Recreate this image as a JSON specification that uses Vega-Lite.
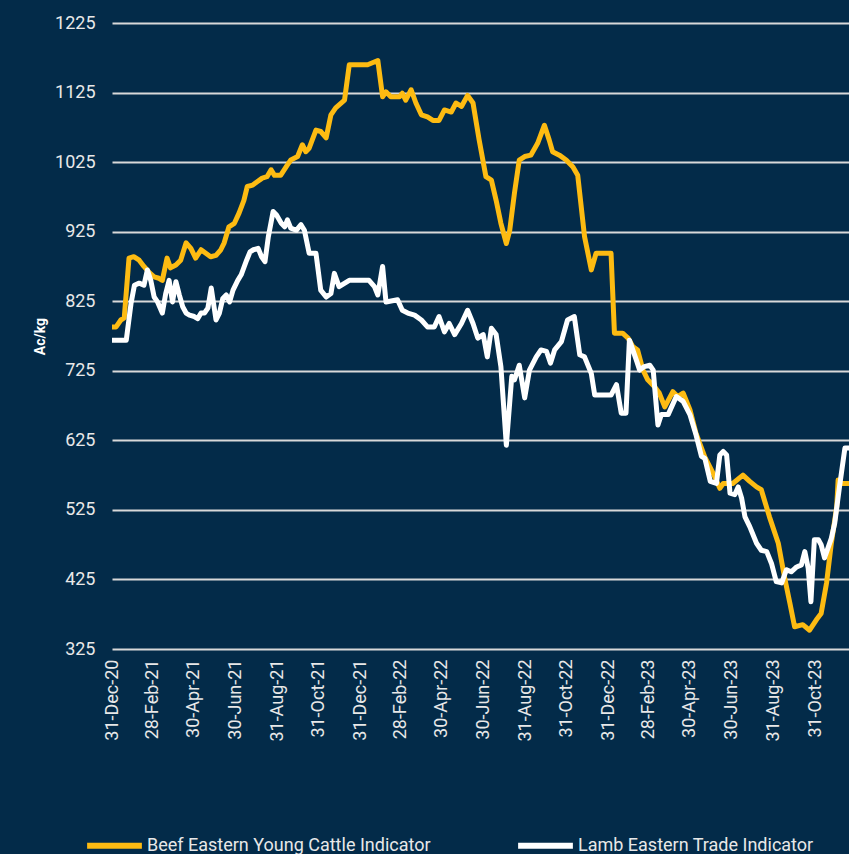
{
  "$schema": "https://vega.github.io/schema/vega-lite/v6.json",
  "width": 737,
  "height": 626,
  "autosize": {"type": "none"},
  "padding": {"left": 112, "top": 23, "right": 0, "bottom": 205},
  "background": "#032b49",
  "config": {
    "view": {"stroke": null},
    "font": "Roboto"
  },
  "datasets": {
    "beef": [
      {"d":"2020-12-31","v":788},{"d":"2021-01-06","v":788},{"d":"2021-01-13","v":798},{"d":"2021-01-18","v":801},{"d":"2021-01-25","v":887},{"d":"2021-02-01","v":889},{"d":"2021-02-09","v":884},{"d":"2021-02-16","v":875},{"d":"2021-02-24","v":866},{"d":"2021-03-03","v":860},{"d":"2021-03-10","v":858},{"d":"2021-03-15","v":855},{"d":"2021-03-22","v":887},{"d":"2021-03-27","v":873},{"d":"2021-04-04","v":877},{"d":"2021-04-11","v":884},{"d":"2021-04-19","v":909},{"d":"2021-04-26","v":901},{"d":"2021-05-03","v":887},{"d":"2021-05-11","v":899},{"d":"2021-05-18","v":894},{"d":"2021-05-25","v":889},{"d":"2021-06-02","v":891},{"d":"2021-06-09","v":899},{"d":"2021-06-14","v":909},{"d":"2021-06-21","v":932},{"d":"2021-06-29","v":937},{"d":"2021-07-06","v":952},{"d":"2021-07-13","v":970},{"d":"2021-07-18","v":990},{"d":"2021-07-26","v":992},{"d":"2021-08-02","v":997},{"d":"2021-08-09","v":1002},{"d":"2021-08-16","v":1004},{"d":"2021-08-22","v":1014},{"d":"2021-08-27","v":1006},{"d":"2021-09-05","v":1006},{"d":"2021-09-15","v":1021},{"d":"2021-09-20","v":1028},{"d":"2021-09-30","v":1033},{"d":"2021-10-07","v":1050},{"d":"2021-10-12","v":1040},{"d":"2021-10-17","v":1045},{"d":"2021-10-27","v":1071},{"d":"2021-11-03","v":1069},{"d":"2021-11-11","v":1060},{"d":"2021-11-18","v":1093},{"d":"2021-11-25","v":1103},{"d":"2021-12-08","v":1114},{"d":"2021-12-15","v":1165},{"d":"2022-01-11","v":1165},{"d":"2022-01-26","v":1171},{"d":"2022-02-02","v":1119},{"d":"2022-02-07","v":1126},{"d":"2022-02-14","v":1119},{"d":"2022-02-27","v":1119},{"d":"2022-03-03","v":1124},{"d":"2022-03-08","v":1114},{"d":"2022-03-16","v":1129},{"d":"2022-03-23","v":1110},{"d":"2022-03-31","v":1093},{"d":"2022-04-09","v":1090},{"d":"2022-04-17","v":1085},{"d":"2022-04-26","v":1085},{"d":"2022-05-04","v":1100},{"d":"2022-05-14","v":1097},{"d":"2022-05-21","v":1110},{"d":"2022-05-29","v":1105},{"d":"2022-06-07","v":1121},{"d":"2022-06-15","v":1110},{"d":"2022-06-24","v":1057},{"d":"2022-07-04","v":1004},{"d":"2022-07-12","v":999},{"d":"2022-07-19","v":970},{"d":"2022-07-26","v":937},{"d":"2022-08-03","v":908},{"d":"2022-08-08","v":927},{"d":"2022-08-15","v":981},{"d":"2022-08-22","v":1028},{"d":"2022-08-30","v":1033},{"d":"2022-09-08","v":1035},{"d":"2022-09-18","v":1052},{"d":"2022-09-28","v":1078},{"d":"2022-10-05","v":1057},{"d":"2022-10-10","v":1040},{"d":"2022-10-20","v":1035},{"d":"2022-10-30","v":1028},{"d":"2022-11-09","v":1018},{"d":"2022-11-16","v":1006},{"d":"2022-11-26","v":918},{"d":"2022-12-06","v":870},{"d":"2022-12-13","v":894},{"d":"2023-01-04","v":894},{"d":"2023-01-09","v":779},{"d":"2023-01-21","v":779},{"d":"2023-01-29","v":772},{"d":"2023-02-05","v":760},{"d":"2023-02-12","v":755},{"d":"2023-02-20","v":726},{"d":"2023-02-27","v":712},{"d":"2023-03-09","v":702},{"d":"2023-03-16","v":693},{"d":"2023-03-24","v":673},{"d":"2023-04-05","v":695},{"d":"2023-04-12","v":688},{"d":"2023-04-20","v":693},{"d":"2023-04-30","v":669},{"d":"2023-05-09","v":635},{"d":"2023-05-22","v":601},{"d":"2023-06-03","v":578},{"d":"2023-06-13","v":556},{"d":"2023-06-18","v":563},{"d":"2023-07-02","v":563},{"d":"2023-07-17","v":575},{"d":"2023-07-27","v":566},{"d":"2023-08-06","v":558},{"d":"2023-08-13","v":554},{"d":"2023-08-25","v":515},{"d":"2023-09-07","v":477},{"d":"2023-09-16","v":429},{"d":"2023-09-24","v":391},{"d":"2023-10-01","v":357},{"d":"2023-10-13","v":360},{"d":"2023-10-23","v":352},{"d":"2023-11-02","v":367},{"d":"2023-11-09","v":376},{"d":"2023-11-17","v":420},{"d":"2023-11-24","v":477},{"d":"2023-12-02","v":530},{"d":"2023-12-04","v":568},{"d":"2023-12-09","v":563},{"d":"2023-12-20","v":563}
    ],
    "lamb": [
      {"d":"2020-12-31","v":769},{"d":"2021-01-21","v":769},{"d":"2021-01-28","v":822},{"d":"2021-02-02","v":848},{"d":"2021-02-09","v":851},{"d":"2021-02-16","v":848},{"d":"2021-02-21","v":870},{"d":"2021-02-26","v":855},{"d":"2021-03-03","v":831},{"d":"2021-03-08","v":824},{"d":"2021-03-15","v":808},{"d":"2021-03-20","v":836},{"d":"2021-03-25","v":855},{"d":"2021-03-30","v":824},{"d":"2021-04-04","v":853},{"d":"2021-04-09","v":834},{"d":"2021-04-14","v":817},{"d":"2021-04-19","v":808},{"d":"2021-04-24","v":805},{"d":"2021-05-01","v":803},{"d":"2021-05-06","v":800},{"d":"2021-05-11","v":808},{"d":"2021-05-16","v":808},{"d":"2021-05-21","v":815},{"d":"2021-05-26","v":844},{"d":"2021-06-02","v":798},{"d":"2021-06-07","v":808},{"d":"2021-06-12","v":829},{"d":"2021-06-17","v":834},{"d":"2021-06-22","v":824},{"d":"2021-06-27","v":841},{"d":"2021-07-04","v":855},{"d":"2021-07-09","v":863},{"d":"2021-07-17","v":884},{"d":"2021-07-22","v":896},{"d":"2021-07-27","v":899},{"d":"2021-08-03","v":901},{"d":"2021-08-08","v":889},{"d":"2021-08-13","v":882},{"d":"2021-08-18","v":918},{"d":"2021-08-25","v":954},{"d":"2021-08-30","v":949},{"d":"2021-09-06","v":937},{"d":"2021-09-11","v":932},{"d":"2021-09-15","v":942},{"d":"2021-09-20","v":930},{"d":"2021-09-28","v":927},{"d":"2021-10-05","v":935},{"d":"2021-10-10","v":927},{"d":"2021-10-17","v":894},{"d":"2021-10-27","v":894},{"d":"2021-11-03","v":841},{"d":"2021-11-11","v":831},{"d":"2021-11-18","v":836},{"d":"2021-11-23","v":865},{"d":"2021-11-30","v":846},{"d":"2021-12-15","v":855},{"d":"2022-01-13","v":855},{"d":"2022-01-21","v":846},{"d":"2022-01-26","v":834},{"d":"2022-02-02","v":875},{"d":"2022-02-07","v":824},{"d":"2022-02-24","v":827},{"d":"2022-03-03","v":812},{"d":"2022-03-11","v":808},{"d":"2022-03-21","v":805},{"d":"2022-03-31","v":798},{"d":"2022-04-09","v":788},{"d":"2022-04-19","v":788},{"d":"2022-04-26","v":803},{"d":"2022-05-04","v":781},{"d":"2022-05-11","v":793},{"d":"2022-05-19","v":777},{"d":"2022-05-29","v":793},{"d":"2022-06-07","v":812},{"d":"2022-06-15","v":793},{"d":"2022-06-22","v":772},{"d":"2022-06-30","v":777},{"d":"2022-07-06","v":745},{"d":"2022-07-12","v":786},{"d":"2022-07-19","v":777},{"d":"2022-07-26","v":731},{"d":"2022-08-03","v":618},{"d":"2022-08-11","v":717},{"d":"2022-08-15","v":712},{"d":"2022-08-22","v":733},{"d":"2022-08-30","v":686},{"d":"2022-09-06","v":726},{"d":"2022-09-16","v":745},{"d":"2022-09-23","v":755},{"d":"2022-10-01","v":753},{"d":"2022-10-07","v":736},{"d":"2022-10-13","v":755},{"d":"2022-10-23","v":767},{"d":"2022-11-01","v":798},{"d":"2022-11-11","v":803},{"d":"2022-11-19","v":748},{"d":"2022-11-26","v":745},{"d":"2022-12-06","v":721},{"d":"2022-12-11","v":690},{"d":"2023-01-04","v":690},{"d":"2023-01-12","v":705},{"d":"2023-01-19","v":664},{"d":"2023-01-26","v":664},{"d":"2023-01-31","v":769},{"d":"2023-02-10","v":741},{"d":"2023-02-15","v":726},{"d":"2023-02-22","v":731},{"d":"2023-03-02","v":733},{"d":"2023-03-07","v":726},{"d":"2023-03-14","v":647},{"d":"2023-03-19","v":662},{"d":"2023-03-29","v":662},{"d":"2023-04-10","v":688},{"d":"2023-04-20","v":681},{"d":"2023-04-30","v":662},{"d":"2023-05-09","v":633},{"d":"2023-05-17","v":602},{"d":"2023-05-22","v":599},{"d":"2023-05-30","v":566},{"d":"2023-06-08","v":563},{"d":"2023-06-13","v":604},{"d":"2023-06-18","v":609},{"d":"2023-06-23","v":604},{"d":"2023-06-28","v":549},{"d":"2023-07-05","v":547},{"d":"2023-07-10","v":558},{"d":"2023-07-15","v":542},{"d":"2023-07-20","v":515},{"d":"2023-07-27","v":501},{"d":"2023-08-06","v":477},{"d":"2023-08-13","v":467},{"d":"2023-08-21","v":465},{"d":"2023-08-28","v":448},{"d":"2023-09-04","v":422},{"d":"2023-09-12","v":420},{"d":"2023-09-19","v":439},{"d":"2023-09-26","v":436},{"d":"2023-10-04","v":443},{"d":"2023-10-11","v":446},{"d":"2023-10-16","v":465},{"d":"2023-10-21","v":441},{"d":"2023-10-25","v":393},{"d":"2023-10-30","v":482},{"d":"2023-11-05","v":482},{"d":"2023-11-09","v":475},{"d":"2023-11-14","v":456},{"d":"2023-11-24","v":484},{"d":"2023-11-29","v":506},{"d":"2023-12-06","v":558},{"d":"2023-12-14","v":614},{"d":"2023-12-20","v":614}
    ]
  },
  "layer": [
    {
      "data": {"name": "beef"},
      "transform": [{"calculate": "'Beef Eastern Young Cattle Indicator'", "as": "series"}],
      "mark": {"type": "line", "strokeWidth": 5, "clip": true, "strokeJoin": "round"},
      "encoding": {
        "x": {"field": "d", "type": "temporal"},
        "y": {"field": "v", "type": "quantitative"},
        "color": {"field": "series", "type": "nominal"}
      }
    },
    {
      "data": {"name": "lamb"},
      "transform": [{"calculate": "'Lamb Eastern Trade Indicator'", "as": "series"}],
      "mark": {"type": "line", "strokeWidth": 5, "clip": true, "strokeJoin": "round"},
      "encoding": {
        "x": {"field": "d", "type": "temporal"},
        "y": {"field": "v", "type": "quantitative"},
        "color": {"field": "series", "type": "nominal"}
      }
    }
  ],
  "resolve": {"scale": {"color": "shared"}},
  "encoding": {
    "x": {
      "field": "d",
      "type": "temporal",
      "scale": {"domain": ["2020-12-31T00:00:00", "2023-12-20T00:00:00"]},
      "axis": {
        "title": null,
        "values": ["2020-12-31T00:00:00","2021-02-28T00:00:00","2021-04-30T00:00:00","2021-06-30T00:00:00","2021-08-31T00:00:00","2021-10-31T00:00:00","2021-12-31T00:00:00","2022-02-28T00:00:00","2022-04-30T00:00:00","2022-06-30T00:00:00","2022-08-31T00:00:00","2022-10-31T00:00:00","2022-12-31T00:00:00","2023-02-28T00:00:00","2023-04-30T00:00:00","2023-06-30T00:00:00","2023-08-31T00:00:00","2023-10-31T00:00:00"],
        "format": "%d-%b-%y",
        "labelAngle": 270,
        "labelFontSize": 18,
        "labelColor": "#e8e8e8",
        "labelPadding": 10,
        "ticks": false,
        "domain": false,
        "grid": false,
        "labelOverlap": false,
        "labelBound": false,
        "labelFlush": false
      }
    },
    "y": {
      "field": "v",
      "type": "quantitative",
      "scale": {"domain": [325, 1225], "nice": false, "zero": false},
      "axis": {
        "title": "Ac/kg",
        "titleFontSize": 14,
        "titleFontWeight": "bold",
        "titleColor": "#ffffff",
        "titlePadding": 7,
        "values": [325, 425, 525, 625, 725, 825, 925, 1025, 1125, 1225],
        "format": "d",
        "labelFontSize": 18,
        "labelColor": "#e8e8e8",
        "labelPadding": 17,
        "ticks": false,
        "domain": false,
        "grid": true,
        "gridColor": "#d9d9d9",
        "gridWidth": 2,
        "gridOpacity": 1
      }
    },
    "color": {
      "field": "series",
      "type": "nominal",
      "scale": {"domain": ["Beef Eastern Young Cattle Indicator", "Lamb Eastern Trade Indicator"], "range": ["#fdbb12", "#ffffff"]},
      "legend": {
        "title": null,
        "orient": "none",
        "direction": "horizontal",
        "legendX": -28,
        "legendY": 792,
        "symbolType": "stroke",
        "symbolSize": 3000,
        "symbolStrokeWidth": 6,
        "labelFontSize": 18,
        "labelColor": "#e8e8e8",
        "labelOffset": 2,
        "columnPadding": 75,
        "labelLimit": 400
      }
    }
  }
}
